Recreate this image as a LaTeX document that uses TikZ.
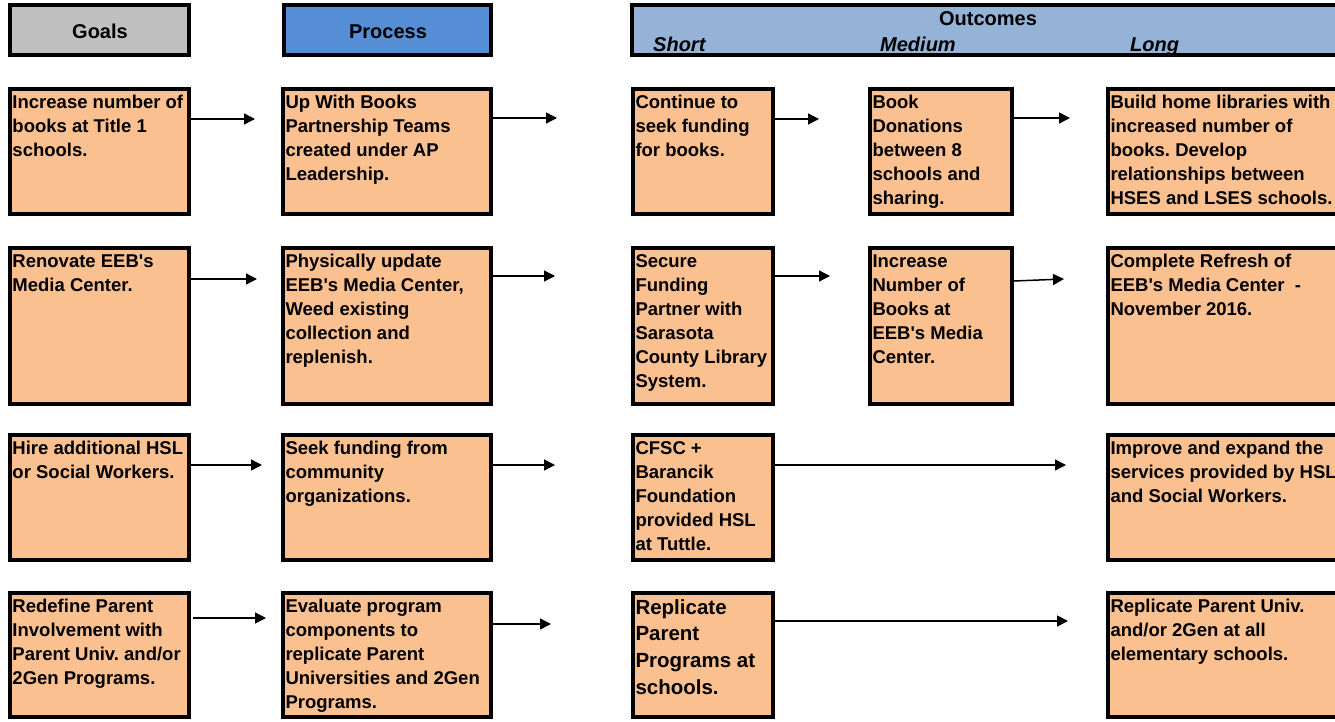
\documentclass[tikz,border=0pt]{standalone}
\usepackage{fontspec}
\setmainfont{Liberation Sans}
\usetikzlibrary{arrows.meta}

\definecolor{boxfill}{HTML}{FAC090}
\definecolor{goalhead}{HTML}{C0C0C0}
\definecolor{prochead}{HTML}{558ED5}
\definecolor{outhead}{HTML}{95B3D7}

\tikzset{
  frame/.style={draw=black, line width=4pt, outer sep=2pt},
  cell/.style={frame, fill=boxfill, inner xsep=2.5pt, inner ysep=0pt,
    anchor=north west, font=\bfseries\fontsize{18.5}{24}\selectfont},
  bigtext/.style={font=\bfseries\fontsize{20.5}{26.7}\selectfont},
  headbox/.style={frame, inner sep=0pt, anchor=north west,
    font=\bfseries\fontsize{20}{24}\selectfont},
  headlabel/.style={inner sep=0pt, font=\bfseries\fontsize{20}{24}\selectfont},
  flow/.style={line width=1.5pt, -{Triangle[length=11pt,width=11pt]}},
}

% \cellbox[style]{name}{left}{top}{right}{bottom}{text}: outer edges in px
\newcommand\cellbox[7][]{%
  \node[cell,#1] (#2) at (#3,#4)
    {\parbox[t][\dimexpr #6pt-#4pt-4pt\relax][t]{\dimexpr #5pt-#3pt-9pt\relax}%
      {\raggedright\frenchspacing\rule{0pt}{1.03em}#7}};}
\newcommand\headcell[7][]{%
  \node[headbox,fill=#7,#1] (#2) at (#3,#4)
    {\parbox[c][\dimexpr #6pt-#4pt-4pt\relax]{\dimexpr #5pt-#3pt-4pt\relax}{\centering\strut}};}
\newcommand\q{\textquotesingle}

\begin{document}
\begin{tikzpicture}[x=1pt,y=-1pt]
\clip (0,0) rectangle (1335,722);
\fill[white] (0,0) rectangle (1335,722);

% column headers
\headcell{hg}{8}{3}{191}{57}{goalhead}
\headcell{hp}{282}{3}{493}{57}{prochead}
\headcell{ho}{630}{3}{1346}{57}{outhead}
\node[headlabel, anchor=base] (tg) at (100,38.5) {Goals};
\node[headlabel, anchor=base] (tp) at (388,38.5) {Process};
\node[headlabel, anchor=base] (to) at (988,26) {Outcomes};
\node[headlabel, anchor=base west] (tsh) at (653,52) {\itshape Short};
\node[headlabel, anchor=base west] (tme) at (880,52) {\itshape Medium};
\node[headlabel, anchor=base west] (tlo) at (1130,52) {\itshape Long};

% row 1
\cellbox{g1}{8}{87}{191}{216}{Increase number of\\books at Title 1\\schools.}
\cellbox{p1}{281}{87}{493}{216}{Up With Books\\Partnership Teams\\created under AP\\Leadership.}
\cellbox{s1}{631}{87}{775}{216}{Continue to\\seek funding\\for books.}
\cellbox{m1}{868}{87}{1014}{216}{Book\\Donations\\between 8\\schools and\\sharing.}
\cellbox{l1}{1106}{87}{1352}{216}{Build home libraries with\\increased number of\\books. Develop\\relationships between\\HSES and LSES schools.}

% row 2
\cellbox{g2}{8}{246}{191}{406}{Renovate EEB\q s\\Media Center.}
\cellbox{p2}{281}{246}{493}{406}{Physically update\\EEB\q s Media Center,\\Weed existing\\collection and\\replenish.}
\cellbox{s2}{631}{246}{775}{406}{Secure\\Funding\\Partner with\\Sarasota\\County Library\\System.}
\cellbox{m2}{868}{246}{1014}{406}{Increase\\Number of\\Books at\\EEB\q s Media\\Center.}
\cellbox{l2}{1106}{246}{1352}{406}{Complete Refresh of\\EEB\q s Media Center~~-\\November 2016.}

% row 3
\cellbox{g3}{8}{433}{191}{562}{Hire additional HSL\\or Social Workers.}
\cellbox{p3}{281}{433}{493}{562}{Seek funding from\\community\\organizations.}
\cellbox{s3}{631}{433}{775}{562}{CFSC +\\Barancik\\Foundation\\provided HSL\\at Tuttle.}
\cellbox{l3}{1106}{433}{1352}{562}{Improve and expand the\\services provided by HSL\\and Social Workers.}

% row 4
\cellbox{g4}{8}{591}{191}{719}{Redefine Parent\\Involvement with\\Parent Univ. and/or\\2Gen Programs.}
\cellbox{p4}{281}{591}{493}{719}{Evaluate program\\components to\\replicate Parent\\Universities and 2Gen\\Programs.}
\cellbox[bigtext]{s4}{631}{591}{775}{719}{Replicate\\Parent\\Programs at\\schools.}
\cellbox{l4}{1106}{591}{1352}{719}{Replicate Parent Univ.\\and/or 2Gen at all\\elementary schools.}

% arrow tips
\coordinate (a11) at (255,119);
\coordinate (a12) at (557,118);
\coordinate (a13) at (819,119);
\coordinate (a14) at (1070,118);
\coordinate (a21) at (257,279);
\coordinate (a22) at (555,276);
\coordinate (a23) at (830,276);
\coordinate (a24) at (1064,279);
\coordinate (a31) at (262,465);
\coordinate (a32) at (555,465);
\coordinate (a33) at (1066,465);
\coordinate (a41) at (266,618);
\coordinate (a42) at (551,624);
\coordinate (a43) at (1068,621);

% connectors
\draw[flow] (g1.east |- a11) -- (a11);
\draw[flow] (p1.east |- a12) -- (a12);
\draw[flow] (s1.east |- a13) -- (a13);
\draw[flow] (m1.east |- a14) -- (a14);
\draw[flow] (g2.east |- a21) -- (a21);
\draw[flow] (p2.east |- a22) -- (a22);
\draw[flow] (s2.east |- a23) -- (a23);
\draw[flow] ([yshift=-2pt]m2.east |- a24) -- (a24);
\draw[flow] (g3.east |- a31) -- (a31);
\draw[flow] (p3.east |- a32) -- (a32);
\draw[flow] (s3.east |- a33) -- (a33);
\draw[flow] ([xshift=2pt]g4.east |- a41) -- (a41);
\draw[flow] (p4.east |- a42) -- (a42);
\draw[flow] (s4.east |- a43) -- (a43);
\end{tikzpicture}
\end{document}
